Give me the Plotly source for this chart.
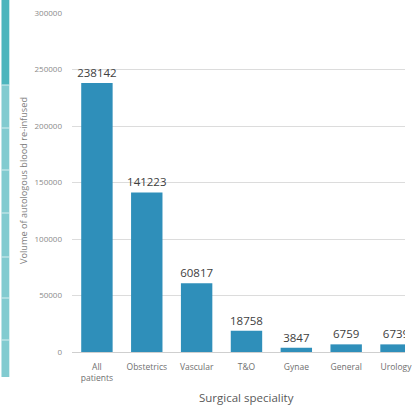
import plotly.graph_objects as go

categories = ["All<br>patients", "Obstetrics", "Vascular", "T&O", "Gynae", "General", "Urology"]
values = [238142, 141223, 60817, 18758, 3847, 6759, 6739]
y_ticks = [0, 50000, 100000, 150000, 200000, 250000, 300000]

W, H = 412, 406
L, R, T, B = 72, 0, 13, 54
pw, ph = W - L - R, H - T - B

def px_x(x):
    return (x - L) / pw

def px_y(y):
    return (H - B - y) / ph

fig = go.Figure()
fig.add_trace(go.Bar(
    x=list(range(len(categories))),
    y=values,
    marker=dict(color="#2f8fba", line=dict(width=0)),
    text=[str(v) for v in values],
    textposition="outside",
    constraintext="none",
    textfont=dict(family="Open Sans", size=11.5, color="#404040"),
    cliponaxis=True,
    width=0.63,
))

shapes = []
# decorative teal strip on the left
shapes.append(dict(type="rect", xref="paper", yref="paper",
                   x0=px_x(0), x1=px_x(8), y0=px_y(85), y1=px_y(0),
                   fillcolor="#4cb5bd", line=dict(width=0), layer="above"))
shapes.append(dict(type="rect", xref="paper", yref="paper",
                   x0=px_x(0), x1=px_x(8), y0=px_y(377), y1=px_y(85),
                   fillcolor="#82cbd0", line=dict(width=0), layer="above"))
for sy in [85, 128, 170, 213, 257, 298, 340]:
    shapes.append(dict(type="line", xref="paper", yref="paper",
                       x0=px_x(0), x1=px_x(8), y0=px_y(sy), y1=px_y(sy),
                       line=dict(color="#d8eef0", width=1), layer="above"))

fig.update_layout(
    width=W, height=H,
    margin=dict(l=L, r=R, t=T, b=B, pad=0),
    paper_bgcolor="white", plot_bgcolor="white",
    showlegend=False,
    font=dict(family="Open Sans", color="#7f7f7f"),
    xaxis=dict(
        range=[-0.5, 6.18],
        tickmode="array",
        tickvals=list(range(len(categories))),
        ticktext=categories,
        tickfont=dict(size=8.5, color="#6f6f6f"),
        showgrid=False, zeroline=False,
        showline=False, ticks="",
        ticklabelstandoff=8,
        ticklabeloverflow="allow",
    ),
    yaxis=dict(
        range=[0, 300000],
        tickmode="array",
        tickvals=y_ticks,
        ticktext=[str(v) for v in y_ticks],
        tickfont=dict(size=8, color="#8a8a8a"),
        showgrid=True, gridcolor="#dcdcdc", gridwidth=1,
        zeroline=True, zerolinecolor="#cfcfcf", zerolinewidth=1,
        showline=False, ticks="",
        ticklabelstandoff=9,
    ),
    shapes=shapes,
    annotations=[
        dict(text="Surgical speciality", xref="paper", yref="paper",
             x=px_x(250), y=px_y(397), showarrow=False,
             xanchor="center", yanchor="middle",
             font=dict(size=11.5, color="#595959", family="Open Sans")),
        dict(text="Volume of autologous blood re-infused", xref="paper", yref="paper",
             x=px_x(22), y=px_y(181), showarrow=False, textangle=-90,
             xanchor="center", yanchor="middle",
             font=dict(size=9.2, color="#7f7f7f", family="Open Sans")),
    ],
)

fig.write_html("out.html")
